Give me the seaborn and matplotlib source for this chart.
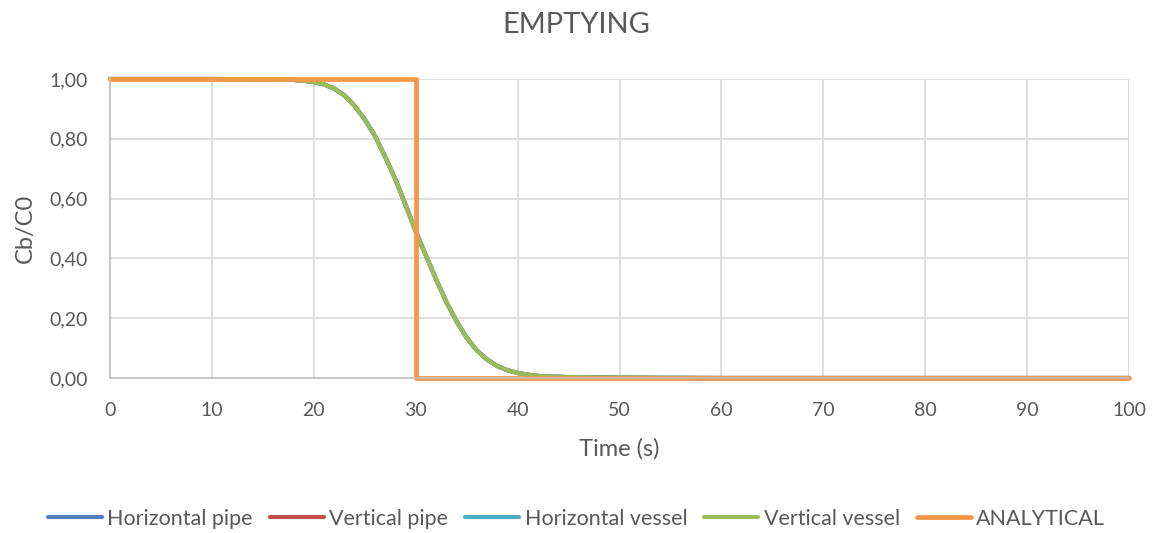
import matplotlib
matplotlib.use("Agg")
import matplotlib.pyplot as plt
import seaborn as sns
import pandas as pd
from matplotlib.ticker import FuncFormatter, MultipleLocator

time_s = [0, 5, 10, 15, 17, 18, 19, 20, 21, 22, 23, 24, 25, 26, 27, 28, 29, 30, 31, 32, 33, 34,
          35, 36, 37, 38, 39, 40, 41, 42, 43, 45, 47, 50, 60, 70, 80, 90, 100]
horizontal_pipe = [1.0, 1.0, 1.0, 0.999, 0.998, 0.997, 0.994, 0.99, 0.982, 0.968, 0.945, 0.91, 0.865,
                   0.81, 0.74, 0.665, 0.58, 0.49, 0.41, 0.33, 0.255, 0.19, 0.135, 0.092, 0.062,
                   0.04, 0.026, 0.017, 0.011, 0.007, 0.005, 0.003, 0.002, 0.001, 0.0, 0.0, 0.0, 0.0, 0.0]
vertical_pipe = list(horizontal_pipe)
horizontal_vessel = list(horizontal_pipe)
vertical_vessel = list(horizontal_pipe)
analytical_t = [0, 30, 30, 100]
analytical_c = [1.0, 1.0, 0.0, 0.0]

series_names = ["Horizontal pipe", "Vertical pipe", "Horizontal vessel", "Vertical vessel"]
series_vals = [horizontal_pipe, vertical_pipe, horizontal_vessel, vertical_vessel]
colors = ["#4F81BD", "#C0504D", "#4BACC6", "#9BBB59", "#F79646"]

sns.set_theme(style="white")
plt.rcParams['font.family'] = ['Lato', 'DejaVu Sans']

fig = plt.figure(figsize=(11.53, 5.33), dpi=100)
ax = fig.add_axes([110/1153, 1-378/533, (1129-110)/1153, (378-79)/533])

for name, vals, c in zip(series_names, series_vals, colors[:4]):
    df = pd.DataFrame({"t": time_s, "v": vals})
    sns.lineplot(data=df, x="t", y="v", ax=ax, color=c, lw=3, label=name, sort=False, clip_on=False)
dfa = pd.DataFrame({"t": analytical_t, "v": analytical_c})
sns.lineplot(data=dfa, x="t", y="v", ax=ax, color=colors[4], lw=3.4, label="ANALYTICAL", sort=False,
             estimator=None, clip_on=False)

ax.set_xlim(0, 100)
ax.set_ylim(0, 1.0)
ax.xaxis.set_major_locator(MultipleLocator(10))
ax.yaxis.set_major_locator(MultipleLocator(0.2))
ax.yaxis.set_major_formatter(FuncFormatter(lambda v, p: f"{v:.2f}".replace(".", ",")))
ax.grid(True, color="#D9D9D9", lw=1.2)
ax.set_axisbelow(True)
for s in ["top", "right"]:
    ax.spines[s].set_visible(False)
for s in ["left", "bottom"]:
    ax.spines[s].set_color("#BFBFBF")
    ax.spines[s].set_linewidth(1.2)
ax.tick_params(axis="both", length=0, labelsize=14, colors="#595959")
ax.tick_params(axis="x", pad=17)
ax.tick_params(axis="y", pad=16)
ax.set_xlabel("Time (s)", fontsize=17, color="#595959", labelpad=14)
ax.set_ylabel("Cb/C0", fontsize=17, color="#595959", labelpad=10)
for lab in ax.get_xticklabels() + ax.get_yticklabels():
    lab.set_color("#595959")

fig.suptitle("EMPTYING", y=1-25/533, fontsize=21, color="#595959", va="center")

ax.legend_.remove()
handles, labels = ax.get_legend_handles_labels()
fig.legend(handles, labels, loc="center", bbox_to_anchor=(0.5, 1-519/533), ncol=5, frameon=False,
           fontsize=15.5, labelcolor="#595959", handlelength=2.5, handletextpad=0.25, columnspacing=0.8)

fig.savefig("out.png", dpi=100)
